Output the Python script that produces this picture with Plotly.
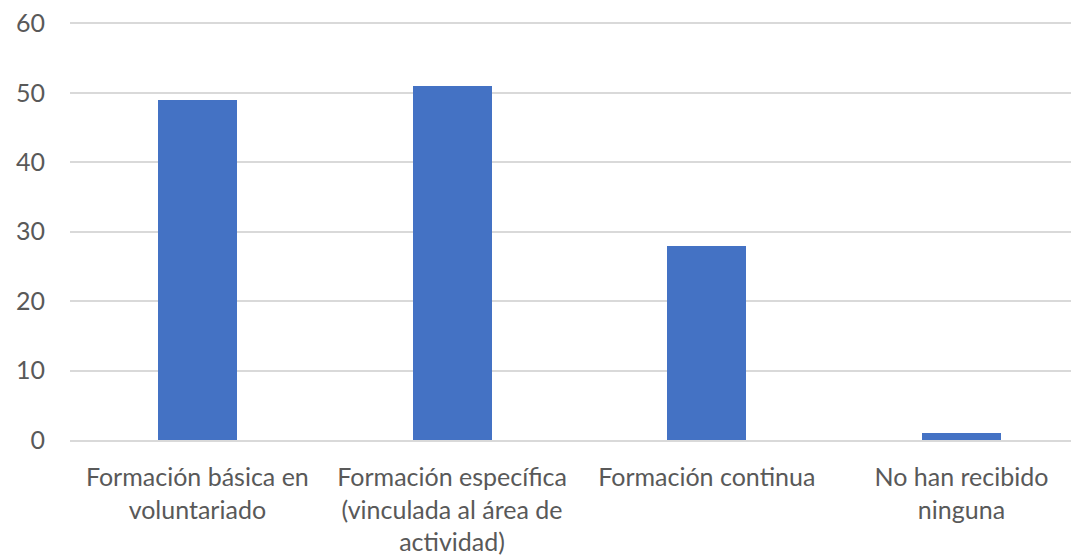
import plotly.graph_objects as go

# Datos
categorias = [
    "Formación básica en<br>voluntariado",
    "Formación específica<br>(vinculada al área de<br>actividad)",
    "Formación continua",
    "No han recibido<br>ninguna",
]
valores = [49, 51, 28, 1]

fig = go.Figure(go.Bar(
    x=categorias,
    y=valores,
    marker_color="#4472C4",
    marker_line_width=0,
    width=0.31,
))

fig.update_layout(
    width=1071,
    height=557,
    margin=dict(l=70, r=0, t=22, b=117),
    plot_bgcolor="white",
    paper_bgcolor="white",
    font=dict(family="Lato, Open Sans, sans-serif", size=25, color="#595959"),
    showlegend=False,
    bargap=0,
)

# el área de trazado original continúa más allá del borde derecho de la imagen
fig.update_xaxes(
    range=[-0.5, 3.43],
    showgrid=False,
    showline=True,
    linecolor="#D9D9D9",
    linewidth=2,
    ticks="outside",
    ticklen=14,
    tickcolor="white",
    automargin=False,
)

fig.update_yaxes(
    range=[0, 60.2],
    dtick=10,
    showgrid=True,
    gridcolor="#D9D9D9",
    gridwidth=2,
    zeroline=False,
    ticks="outside",
    ticklen=19,
    tickcolor="white",
    automargin=False,
)

# quitar el margen por defecto del <body> para que la figura empiece en (0, 0)
fig.write_html(
    "out.html",
    config={"displayModeBar": False},
    post_script="document.body.style.margin='0';",
)
